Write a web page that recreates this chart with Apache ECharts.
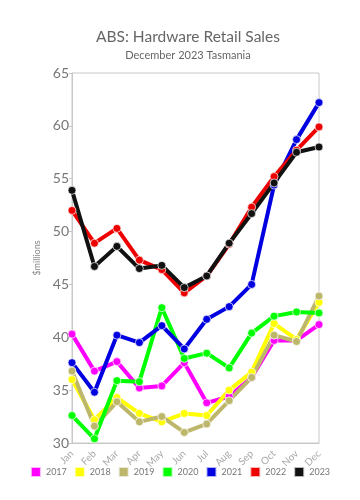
<!DOCTYPE html>
<html><head><meta charset="utf-8">
<script src="https://cdn.jsdelivr.net/npm/echarts@6/dist/echarts.min.js"></script>
<style>html,body{margin:0;padding:0;background:#fff}#c{width:360px;height:500px}</style>
</head><body><div id="c"></div>
<script>
const months = ['Jan','Feb','Mar','Apr','May','Jun','Jul','Aug','Sep','Oct','Nov','Dec'];
const years = ['2017','2018','2019','2020','2021','2022','2023'];
const colors = ['#ff00ff','#ffff00','#bdb76b','#00ff00','#0000e0','#ee0000','#111111'];
const s2017 = [40.3,36.8,37.7,35.2,35.4,37.6,33.8,34.4,36.2,39.7,39.7,41.2];
const s2018 = [36.0,32.2,34.3,32.8,32.0,32.8,32.6,35.0,36.7,41.3,39.8,43.3];
const s2019 = [36.8,31.6,33.9,32.0,32.5,31.0,31.8,34.0,36.2,40.2,39.6,43.9];
const s2020 = [32.6,30.4,35.9,35.8,42.8,38.0,38.5,37.1,40.4,42.0,42.4,42.3];
const s2021 = [37.6,34.8,40.2,39.5,41.1,38.9,41.7,42.9,45.0,54.4,58.7,62.2];
const s2022 = [52.0,48.9,50.3,47.3,46.4,44.2,45.8,48.8,52.3,55.2,57.7,59.9];
const s2023 = [53.9,46.7,48.6,46.5,46.8,44.7,45.8,48.9,51.7,54.6,57.5,58.0];
const yTicks = [30,35,40,45,50,55,60,65];
const allSeries = [s2017,s2018,s2019,s2020,s2021,s2022,s2023];

const chart = echarts.init(document.getElementById('c'), null, {renderer:'canvas'});
const font = 'Lato, "Open Sans", sans-serif';
chart.setOption({
  animation:false,
  color: colors,
  title:{
    text:'ABS: Hardware Retail Sales',
    subtext:'December 2023 Tasmania',
    left:183, textAlign:'center', top:24, itemGap:5,
    textStyle:{fontFamily:font,fontSize:15.5,fontWeight:'normal',color:'#666'},
    subtextStyle:{fontFamily:font,fontSize:11,color:'#666'}
  },
  legend:{
    bottom:17, left:'center',
    icon:'rect', itemWidth:10, itemHeight:10, itemGap:7,
    textStyle:{fontFamily:font,fontSize:9,color:'#777'},
    data: years
  },
  grid:{left:72,right:41,top:73,bottom:57,show:true,borderColor:'#c8c8c8',borderWidth:1},
  xAxis:{
    type:'category', data:months, boundaryGap:false,
    axisLine:{lineStyle:{color:'#c8c8c8'}},
    axisTick:{show:false},
    axisLabel:{rotate:45,fontFamily:font,fontSize:10,color:'#aaa',margin:9}
  },
  yAxis:{
    type:'value', min:yTicks[0], max:yTicks[yTicks.length-1], interval:5,
    name:'$millions', nameLocation:'middle', nameGap:25,
    nameTextStyle:{fontFamily:font,fontSize:9,color:'#888'},
    axisLine:{show:true,lineStyle:{color:'#c8c8c8'}},
    axisTick:{show:true,length:3,lineStyle:{color:'#c8c8c8'}},
    splitLine:{show:false},
    axisLabel:{fontFamily:font,fontSize:14,color:'#777',margin:3}
  },
  series: years.map((y,i)=>({
    name:y, type:'line', data:allSeries[i],
    symbol:'circle', symbolSize:8, showAllSymbol:true,
    lineStyle:{width:4,color:colors[i]},
    itemStyle:{color:colors[i],borderColor:'rgba(255,255,255,0.7)',borderWidth:1},
    emphasis:{disabled:true}
  }))
});
</script></body></html>
